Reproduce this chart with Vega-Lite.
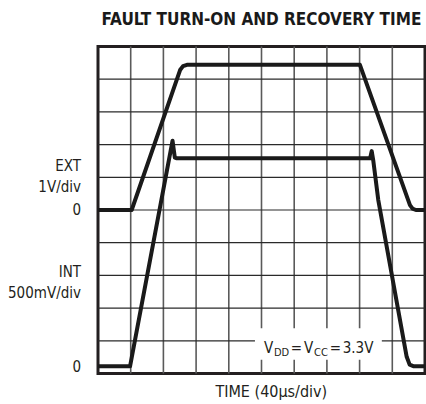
{
  "$schema": "https://vega.github.io/schema/vega-lite/v6.json",
  "width": 327,
  "height": 327,
  "autosize": {"type": "none"},
  "padding": {"left": 98, "top": 46.5, "right": 1, "bottom": 30.5},
  "background": "white",
  "data": {"values": [{}]},
  "config": {
    "view": {"stroke": "#231f20", "strokeWidth": 3},
    "font": "DejaVu Sans Condensed",
    "axis": {"disable": true},
    "text": {"color": "#231f20", "font": "DejaVu Sans Condensed"}
  },
  "datasets": {
    "divisions": [
      {"d": 1}, {"d": 2}, {"d": 3}, {"d": 4}, {"d": 5}, {"d": 6}, {"d": 7}, {"d": 8}, {"d": 9}
    ],
    "traces": [
      {"series": "EXT", "t": 0, "v": 5.0},
      {"series": "EXT", "t": 1.03, "v": 5.0},
      {"series": "EXT", "t": 2.51, "v": 9.28},
      {"series": "EXT", "t": 2.6, "v": 9.4},
      {"series": "EXT", "t": 2.72, "v": 9.44},
      {"series": "EXT", "t": 8.01, "v": 9.44},
      {"series": "EXT", "t": 9.54, "v": 5.15},
      {"series": "EXT", "t": 9.62, "v": 5.04},
      {"series": "EXT", "t": 9.72, "v": 5.0},
      {"series": "EXT", "t": 10, "v": 5.0},
      {"series": "INT", "t": 0, "v": 0.22},
      {"series": "INT", "t": 0.98, "v": 0.22},
      {"series": "INT", "t": 2.28, "v": 7.12},
      {"series": "INT", "t": 2.35, "v": 6.6},
      {"series": "INT", "t": 2.41, "v": 6.58},
      {"series": "INT", "t": 8.32, "v": 6.58},
      {"series": "INT", "t": 8.37, "v": 6.8},
      {"series": "INT", "t": 8.42, "v": 6.5},
      {"series": "INT", "t": 8.57, "v": 5.31},
      {"series": "INT", "t": 9.44, "v": 0.51},
      {"series": "INT", "t": 9.53, "v": 0.27},
      {"series": "INT", "t": 9.66, "v": 0.22},
      {"series": "INT", "t": 10, "v": 0.22}
    ]
  },
  "layer": [
    {
      "data": {"name": "divisions"},
      "mark": {"type": "rule", "color": "#5a5a5a", "strokeWidth": 1.6},
      "encoding": {
        "x": {"field": "d", "type": "quantitative", "scale": {"domain": [0, 10], "nice": false, "zero": false}}
      }
    },
    {
      "data": {"name": "divisions"},
      "mark": {"type": "rule", "color": "#2a2a2a", "strokeWidth": 1.2},
      "encoding": {
        "y": {"field": "d", "type": "quantitative", "scale": {"domain": [0, 10], "nice": false, "zero": false}}
      }
    },
    {
      "mark": {"type": "rect", "color": "white"},
      "encoding": {
        "x": {"datum": 4.8, "type": "quantitative"},
        "x2": {"datum": 8.68},
        "y": {"datum": 0.42, "type": "quantitative"},
        "y2": {"datum": 1.38}
      }
    },
    {
      "data": {"name": "traces"},
      "mark": {"type": "line", "color": "#1a1a1a", "strokeWidth": 4, "strokeJoin": "round", "strokeCap": "butt", "clip": true},
      "encoding": {
        "x": {"field": "t", "type": "quantitative"},
        "y": {"field": "v", "type": "quantitative"},
        "detail": {"field": "series"}
      }
    },
    {
      "mark": {"type": "text", "fontSize": 15, "align": "center", "baseline": "alphabetic"},
      "encoding": {"x": {"datum": 5.22}, "y": {"datum": 0.62}, "text": {"value": "V"}}
    },
    {
      "mark": {"type": "text", "fontSize": 11, "align": "left", "baseline": "alphabetic"},
      "encoding": {"x": {"datum": 5.38}, "y": {"datum": 0.535}, "text": {"value": "DD"}}
    },
    {
      "mark": {"type": "text", "fontSize": 15, "align": "center", "baseline": "alphabetic"},
      "encoding": {"x": {"datum": 6.064}, "y": {"datum": 0.62}, "text": {"value": "="}}
    },
    {
      "mark": {"type": "text", "fontSize": 15, "align": "center", "baseline": "alphabetic"},
      "encoding": {"x": {"datum": 6.44}, "y": {"datum": 0.62}, "text": {"value": "V"}}
    },
    {
      "mark": {"type": "text", "fontSize": 11, "align": "left", "baseline": "alphabetic"},
      "encoding": {"x": {"datum": 6.606}, "y": {"datum": 0.535}, "text": {"value": "CC"}}
    },
    {
      "mark": {"type": "text", "fontSize": 15, "align": "center", "baseline": "alphabetic"},
      "encoding": {"x": {"datum": 7.263}, "y": {"datum": 0.62}, "text": {"value": "="}}
    },
    {
      "mark": {"type": "text", "fontSize": 15, "align": "left", "baseline": "alphabetic"},
      "encoding": {"x": {"datum": 7.483}, "y": {"datum": 0.62}, "text": {"value": "3.3V"}}
    },
    {
      "mark": {"type": "text", "fontSize": 15, "align": "right", "baseline": "middle", "dx": -17},
      "encoding": {"x": {"datum": 0}, "y": {"datum": 6.35}, "text": {"value": "EXT"}}
    },
    {
      "mark": {"type": "text", "fontSize": 15, "align": "right", "baseline": "middle", "dx": -17},
      "encoding": {"x": {"datum": 0}, "y": {"datum": 5.7}, "text": {"value": "1V/div"}}
    },
    {
      "mark": {"type": "text", "fontSize": 15, "align": "right", "baseline": "middle", "dx": -17},
      "encoding": {"x": {"datum": 0}, "y": {"datum": 5.0}, "text": {"value": "0"}}
    },
    {
      "mark": {"type": "text", "fontSize": 15, "align": "right", "baseline": "middle", "dx": -17},
      "encoding": {"x": {"datum": 0}, "y": {"datum": 3.1}, "text": {"value": "INT"}}
    },
    {
      "mark": {"type": "text", "fontSize": 15, "align": "right", "baseline": "middle", "dx": -17},
      "encoding": {"x": {"datum": 0}, "y": {"datum": 2.46}, "text": {"value": "500mV/div"}}
    },
    {
      "mark": {"type": "text", "fontSize": 15, "align": "right", "baseline": "middle", "dx": -17},
      "encoding": {"x": {"datum": 0}, "y": {"datum": 0.2}, "text": {"value": "0"}}
    },
    {
      "mark": {"type": "text", "fontSize": 16, "align": "center", "baseline": "middle", "dy": 18},
      "encoding": {"x": {"datum": 5.3}, "y": {"datum": 0}, "text": {"value": "TIME (40µs/div)"}}
    },
    {
      "mark": {"type": "text", "fontSize": 17, "fontWeight": "bold", "align": "center", "baseline": "middle", "dy": -26.5, "color": "#1a1a1a"},
      "encoding": {"x": {"datum": 5}, "y": {"datum": 10}, "text": {"value": "FAULT TURN-ON AND RECOVERY TIME"}}
    }
  ]
}
